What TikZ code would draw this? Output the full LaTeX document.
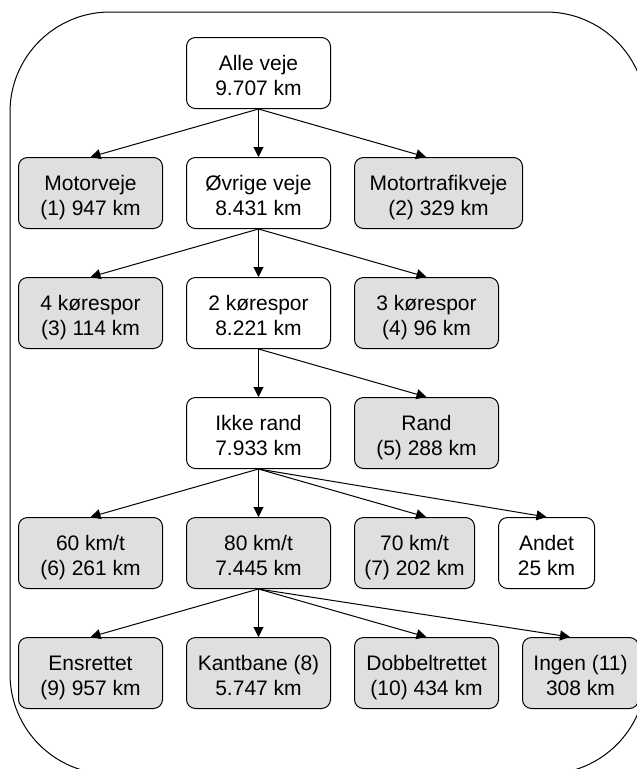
\documentclass[tikz,border=0pt]{standalone}
\usepackage{fontspec}
\setmainfont{Liberation Sans}
\usetikzlibrary{arrows.meta,calc}
% two centred lines; first baseline 2.5pt above the box centre, second 22pt below
\newcommand\pair[2]{\vbox{\baselineskip=24.5pt\halign{\hfil##\hfil\cr
  \rule{0pt}{25.5pt}#1\cr
  \rule[-6pt]{0pt}{6pt}#2\cr}}}
\begin{document}
\begin{tikzpicture}[x=1pt,y=-1pt,
  box/.style={draw,line width=1pt,rounded corners=9pt,inner sep=0pt,
    minimum height=71pt,font=\fontsize{21}{24.5}\selectfont,anchor=north west},
  plain/.style={box,fill=white},
  shaded/.style={box,fill=gray!25},
  link/.style={line width=1pt,-{Triangle[length=10pt,width=10pt]}}]

\useasboundingbox (0,0) rectangle (637,769);

% outer frame, running past the page edges on the right and bottom
\begin{scope}
  \clip (0,0) rectangle (637,769);
  \draw[line width=1pt,rounded corners=100pt] (10,12) rectangle (646,774);
\end{scope}

% level 1
\node[plain,minimum width=144pt] (alle) at (186,37) {\pair{Alle veje}{9.707 km}};

% level 2
\node[shaded,minimum width=144pt] (motorveje) at (18,157) {\pair{Motorveje}{(1) 947 km}};
\node[plain,minimum width=144pt] (ovrige) at (186,157) {\pair{Øvrige veje}{8.431 km}};
\node[shaded,minimum width=168pt] (motortrafik) at (354,157) {\pair{Motortrafikveje}{(2) 329 km}};

% level 3
\node[shaded,minimum width=144pt] (fire) at (18,277) {\pair{4 kørespor}{(3) 114 km}};
\node[plain,minimum width=144pt] (to) at (186,277) {\pair{2 kørespor}{8.221 km}};
\node[shaded,minimum width=144pt] (tre) at (354,277) {\pair{3 kørespor}{(4) 96 km}};

% level 4
\node[plain,minimum width=144pt] (ikke) at (186,397) {\pair{Ikke rand}{7.933 km}};
\node[shaded,minimum width=144pt] (rand) at (354,397) {\pair{Rand}{(5) 288 km}};

% level 5
\node[shaded,minimum width=144pt] (s60) at (18,517) {\pair{60 km/t}{(6) 261 km}};
\node[shaded,minimum width=144pt] (s80) at (186,517) {\pair{80 km/t}{7.445 km}};
\node[shaded,minimum width=120pt] (s70) at (354,517) {\pair{70 km/t}{(7) 202 km}};
\node[plain,minimum width=96pt] (andet) at (498,517) {\pair{Andet}{25 km}};

% level 6
\node[shaded,minimum width=144pt] (ens) at (18,637) {\pair{Ensrettet}{(9) 957 km}};
\node[shaded,minimum width=144pt] (kant) at (186,637) {\pair{Kantbane (8)}{5.747 km}};
\node[shaded,minimum width=144pt] (dob) at (354,637) {\pair{Dobbeltrettet}{(10) 434 km}};
\node[shaded,minimum width=116pt] (ingen) at (522,637) {\pair{Ingen (11)}{308 km}};

% connectors
\draw[link] (alle.south) -- (motorveje.north);
\draw[link] (alle.south) -- (ovrige.north);
\draw[link] (alle.south) -- ([xshift=72pt]motortrafik.north west);

\draw[link] (ovrige.south) -- (fire.north);
\draw[link] (ovrige.south) -- (to.north);
\draw[link] (ovrige.south) -- (tre.north);

\draw[link] (to.south) -- (ikke.north);
\draw[link] (to.south) -- (rand.north);

\draw[link] (ikke.south) -- (s60.north);
\draw[link] (ikke.south) -- (s80.north);
\draw[link] (ikke.south) -- ([xshift=72pt]s70.north west);
\draw[link] (ikke.south) -- (andet.north);

\draw[link] (s80.south) -- (ens.north);
\draw[link] (s80.south) -- (kant.north);
\draw[link] (s80.south) -- (dob.north);
\draw[link] (s80.south) -- ([xshift=48pt]ingen.north west);
\end{tikzpicture}
\end{document}
